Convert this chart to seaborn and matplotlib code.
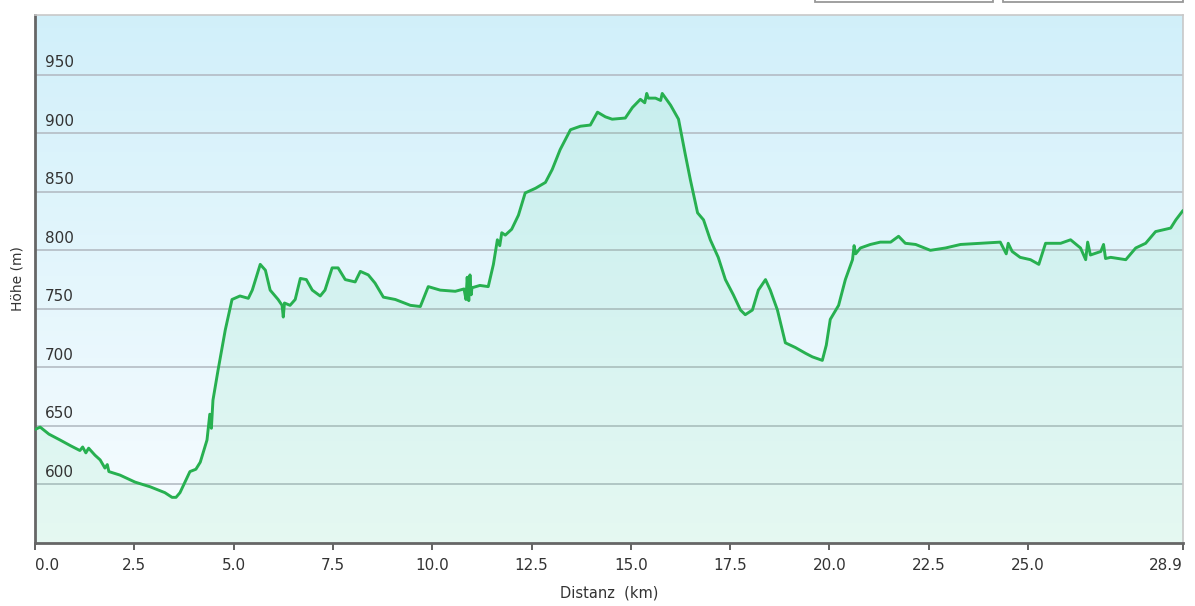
import matplotlib.pyplot as plt
import matplotlib.patches as mpatches
import matplotlib.transforms as mtransforms
import seaborn as sns
import numpy as np
import pandas as pd

# elevation profile (km, m)
distanz = [0.0, 0.13, 0.35, 0.63, 0.9, 1.13, 1.2, 1.28, 1.35, 1.51, 1.64, 1.76, 1.82, 1.86, 2.14,
           2.52, 2.9, 3.27, 3.45, 3.55, 3.65, 3.9, 4.05, 4.16, 4.33, 4.4, 4.44, 4.48, 4.61, 4.79,
           4.96, 5.16, 5.37, 5.47, 5.67, 5.8, 5.92, 6.12, 6.22, 6.25, 6.28, 6.42, 6.55, 6.68,
           6.83, 6.98, 7.18, 7.3, 7.48, 7.63, 7.81, 8.06, 8.19, 8.39, 8.56, 8.77, 9.07, 9.45,
           9.7, 9.9, 10.2, 10.58, 10.8, 10.85, 10.88, 10.92, 10.95, 10.98, 11.0, 11.2, 11.41,
           11.54, 11.64, 11.7, 11.75, 11.84, 12.0, 12.17, 12.34, 12.6, 12.85, 13.02, 13.22,
           13.48, 13.73, 13.98, 14.16, 14.36, 14.53, 14.86, 15.04, 15.24, 15.35, 15.4, 15.44,
           15.62, 15.75, 15.79, 16.0, 16.2, 16.37, 16.5, 16.68, 16.83, 17.0, 17.2, 17.38, 17.58,
           17.76, 17.88, 18.06, 18.21, 18.39, 18.51, 18.69, 18.89, 19.14, 19.4, 19.57, 19.82,
           19.92, 20.02, 20.23, 20.4, 20.58, 20.62, 20.66, 20.78, 21.03, 21.28, 21.54, 21.74,
           21.91, 22.17, 22.54, 22.92, 23.3, 23.8, 24.3, 24.45, 24.5, 24.6, 24.8, 25.06, 25.27,
           25.44, 25.82, 26.07, 26.32, 26.45, 26.5, 26.57, 26.83, 26.9, 26.95, 27.08, 27.46,
           27.71, 27.96, 28.21, 28.46, 28.59, 28.72, 28.9]
hoehe = [647, 649, 643, 638, 633, 629, 632, 627, 631, 625, 621, 614, 617, 611, 608,
         602, 598, 593, 589, 589, 593, 611, 613, 619, 638, 660, 648, 672, 698, 732,
         758, 761, 759, 766, 788, 783, 766, 758, 753, 743, 755, 753, 758, 776,
         775, 766, 761, 766, 785, 785, 775, 773, 782, 779, 772, 760, 758, 753,
         752, 769, 766, 765, 767, 758, 777, 757, 779, 762, 768, 770, 769,
         788, 809, 804, 815, 813, 818, 830, 849, 853, 858, 869, 886,
         903, 906, 907, 918, 914, 912, 913, 922, 929, 926, 934, 930,
         930, 928, 934, 924, 912, 882, 860, 832, 826, 809, 794, 775, 762,
         749, 745, 749, 766, 775, 766, 749, 721, 717, 712, 709, 706,
         719, 741, 753, 775, 792, 804, 797, 802, 805, 807, 807, 812,
         806, 805, 800, 802, 805, 806, 807, 797, 806, 799, 794, 792, 788,
         806, 806, 809, 802, 792, 807, 796, 799, 805, 793, 794, 792,
         802, 806, 816, 818, 819, 826, 834]

x_ticks = [0.0, 2.5, 5.0, 7.5, 10.0, 12.5, 15.0, 17.5, 20.0, 22.5, 25.0, 28.9]
y_ticks = [600, 650, 700, 750, 800, 850, 900, 950]

df = pd.DataFrame({'Distanz': distanz, 'Hoehe': hoehe})

sns.set_theme(style="white")
plt.rcParams['font.family'] = ['DejaVu Sans']

W, H = 1195, 606
fig = plt.figure(figsize=(W / 100, H / 100), dpi=100)
ax = fig.add_axes([35 / W, 1 - 543 / H, (1183 - 35) / W, (543 - 15) / H])

# background gradient (light blue to almost white)
grad = np.linspace(0, 1, 256).reshape(-1, 1)
top = np.array([0.82, 0.94, 0.98])
bot = np.array([0.97, 0.99, 1.0])
img = top[None, None, :] * (1 - grad[:, :, None]) + bot[None, None, :] * grad[:, :, None]
ax.imshow(img, extent=[0, 1, 0, 1], transform=ax.transAxes, aspect='auto', zorder=0)

ax.fill_between(df['Distanz'], 550, df['Hoehe'], color='#48d888', alpha=0.10, lw=0, zorder=1)
sns.lineplot(data=df, x='Distanz', y='Hoehe', ax=ax, color='#27b050', lw=2.1, zorder=3)

ax.set_xlim(0, 28.9)
ax.set_ylim(550, 1001)
ax.set_yticks(y_ticks)
ax.set_yticklabels([])
ax.tick_params(axis='y', length=0)
ax.grid(axis='y', color='#b4bcc4', lw=1.2)
ax.grid(axis='x', visible=False)

trans = mtransforms.blended_transform_factory(ax.transAxes, ax.transData)
for v in y_ticks:
    ax.text(10 / (1183 - 35), v + 4, str(v), transform=trans, ha='left', va='bottom',
            fontsize=11, color='#333333', zorder=4)

ax.set_xticks(x_ticks)
ax.set_xticklabels([f"{t:.1f}" for t in x_ticks], fontsize=11, color='#333333')
xl = ax.get_xticklabels()
xl[0].set_ha('left')
xl[-1].set_ha('right')
ax.tick_params(axis='x', direction='out', length=5, width=1.3, color='#555555', pad=6, bottom=True)

for s in ['left', 'bottom']:
    ax.spines[s].set_color('#666666')
    ax.spines[s].set_linewidth(2)
for s in ['top', 'right']:
    ax.spines[s].set_color('#c8c8c8')
    ax.spines[s].set_linewidth(1.2)

ax.set_xlabel("Distanz  (km)", fontsize=10.5, color='#333333', labelpad=9)
ax.set_ylabel("Höhe (m)", fontsize=10, color='#333333', labelpad=4)

# two button boxes peeking in at the top right
for x0, x1 in [(815, 993), (1003, 1183)]:
    fig.patches.append(mpatches.Rectangle((x0 / W, 1 - 2 / H), (x1 - x0) / W, 10 / H,
                                          transform=fig.transFigure, facecolor='white',
                                          edgecolor='#999999', lw=1.3))

fig.savefig("out.png", dpi=100)
